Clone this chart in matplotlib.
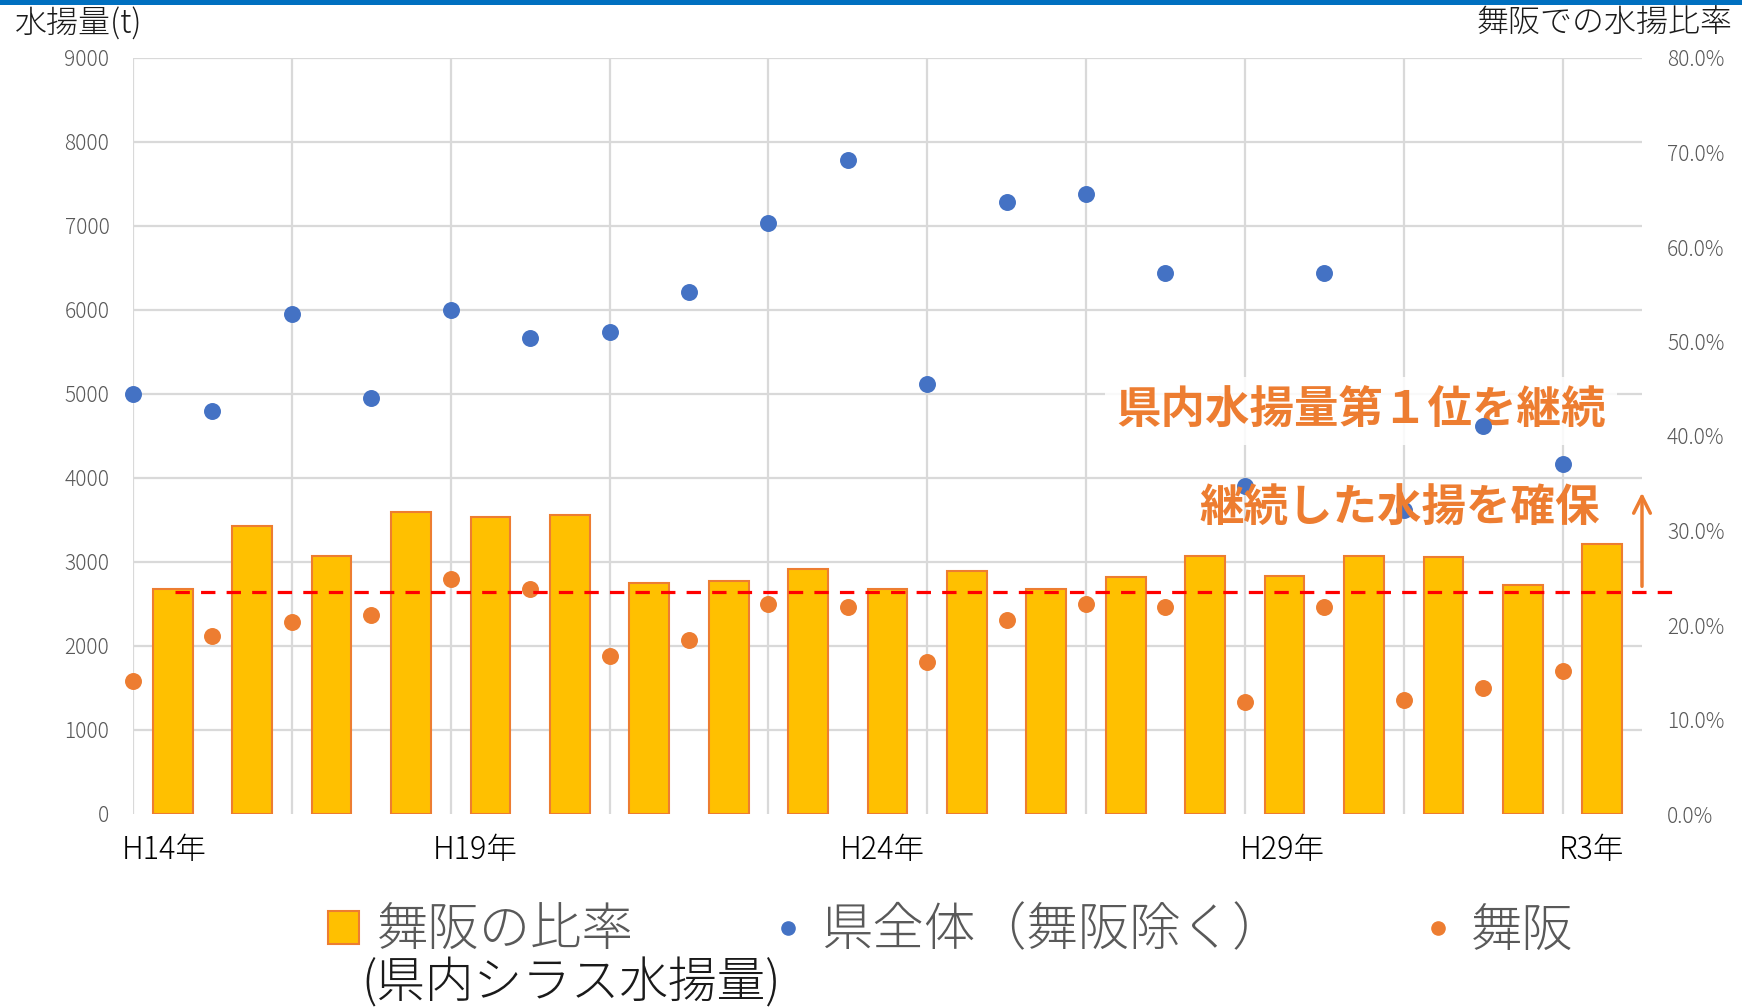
import matplotlib
matplotlib.use('Agg')
import matplotlib.pyplot as plt
from matplotlib.patches import Rectangle, Patch
from matplotlib.lines import Line2D
from matplotlib.ticker import FuncFormatter

plt.rcParams['font.family'] = ['Noto Sans CJK JP', 'DejaVu Sans']

# 年度 H14 .. R2 (19 points)
years = ['H14', 'H15', 'H16', 'H17', 'H18', 'H19', 'H20', 'H21', 'H22', 'H23',
         'H24', 'H25', 'H26', 'H27', 'H28', 'H29', 'H30', 'R1', 'R2']
ken_total = [5000, 4800, 5950, 4950, 6000, 5670, 5740, 6220, 7030, 7780,
             5120, 7280, 7380, 6440, 3900, 6440, 3620, 4620, 4170]
maisaka = [1580, 2120, 2280, 2370, 2800, 2680, 1880, 2070, 2500, 2460,
           1810, 2310, 2500, 2460, 1330, 2460, 1360, 1500, 1700]
ratio = [23.8, 30.5, 27.3, 32.0, 31.4, 31.6, 24.4, 24.7, 25.9, 23.8,
         25.7, 23.8, 25.1, 27.3, 25.2, 27.3, 27.2, 24.2, 28.6]

year_labels = ['H14年', 'H19年', 'H24年', 'H29年', 'R3年']
year_label_x = [0.39, 4.31, 9.43, 14.47, 18.36]

ref_ratio = 23.5          # 赤破線
arrow_from, arrow_to = 23.8, 34.3

BLUE = '#4472C4'
ORANGE = '#ED7D31'
GOLD = '#FFC000'
GRID = '#D9D9D9'
GRAY = '#595959'

fig = plt.figure(figsize=(17.42, 10.08), dpi=100)
ax = fig.add_axes([133 / 1742, 1 - 814 / 1008, 1509 / 1742, 756 / 1008])
ax2 = ax.twinx()

x = list(range(len(years)))
xb = [i + 0.5 for i in x]

# left axis + grid
ax.set_xlim(0, 19)
ax.set_ylim(0, 9000)
ax.set_xticks(range(0, 19, 2))
ax.set_xticklabels([])
ax.set_yticks(range(0, 9001, 1000))
ax.tick_params(axis='x', length=0)
ax.tick_params(axis='y', length=0, pad=17, labelsize=15, labelcolor=GRAY)
ax.grid(True, color=GRID, lw=1.6)
ax.set_axisbelow(True)
for s in ax.spines.values():
    s.set_visible(False)
ax.get_ygridlines()[0].set_visible(False)

# right axis: ratio bars
ax2.set_ylim(0, 80)
ax2.set_yticks(range(0, 81, 10))
ax2.yaxis.set_major_formatter(FuncFormatter(lambda v, p: '{:.1f}%'.format(v)))
ax2.tick_params(axis='y', length=0, pad=18, labelsize=15, labelcolor=GRAY)
for s in ax2.spines.values():
    s.set_visible(False)
for t in ax.get_yticklabels() + ax2.get_yticklabels():
    t.set_fontweight('light')

ax2.bar(xb, ratio, width=0.5, color=GOLD, edgecolor=ORANGE, lw=1.5, zorder=2)

# scatter on left scale, drawn above the bars
ax2.scatter(x, ken_total, s=125, color=BLUE, zorder=4, transform=ax.transData, clip_on=False)
ax2.scatter(x, maisaka, s=125, color=ORANGE, zorder=4, transform=ax.transData, clip_on=False)

# red dashed reference line
ax2.plot([0.53, 19.38], [ref_ratio, ref_ratio], color='red', lw=2.3,
         dashes=(4.5, 3.5), zorder=5, clip_on=False)

# arrow
ax2.annotate('', xy=(19.0, arrow_to), xytext=(19.0, arrow_from),
             arrowprops=dict(arrowstyle='->', color=ORANGE, lw=2.5, mutation_scale=30),
             annotation_clip=False, zorder=5)

# callout texts
ax2.text(15.46, 4797, '県内水揚量第１位を継続', transform=ax.transData,
         ha='center', va='center', fontsize=32, fontweight='bold', color=ORANGE,
         bbox=dict(facecolor='white', edgecolor='none', alpha=0.85, pad=8), zorder=3)
ax2.text(15.95, 3647, '継続した水揚を確保', transform=ax.transData,
         ha='center', va='center', fontsize=32, fontweight='bold', color=ORANGE, zorder=6)

# year labels under the axis
for lab, xp in zip(year_labels, year_label_x):
    ax.text(xp, -0.048, lab, transform=ax.get_xaxis_transform(),
            ha='center', va='center', fontsize=22, color='black', fontweight='light')

# axis titles
fig.text(15 / 1742, 1 - 24 / 1008, '水揚量(t)', ha='left', va='center', fontsize=23,
         color='#1a1a1a', fontweight='light')
fig.text(1733 / 1742, 1 - 24 / 1008, '舞阪での水揚比率', ha='right', va='center', fontsize=23,
         color='#1a1a1a', fontweight='light')

# legend
handles = [Patch(facecolor=GOLD, edgecolor=ORANGE, lw=1.5),
           Line2D([], [], ls='none', marker='o', ms=9.5, color=BLUE),
           Line2D([], [], ls='none', marker='o', ms=9.5, color=ORANGE)]
labels = ['舞阪の比率', '県全体（舞阪除く）', '舞阪']
leg = fig.legend(handles, labels, loc='center left', bbox_to_anchor=(328 / 1742, 1 - 931 / 1008),
                 ncol=3, frameon=False, fontsize=37, handlelength=0.6, handleheight=0.6,
                 handletextpad=0.35, columnspacing=2.7, borderpad=0, borderaxespad=0)
for t in leg.get_texts():
    t.set_color(GRAY)
    t.set_fontweight('light')
fig.text(361 / 1742, 1 - 984 / 1008, '(県内シラス水揚量)', ha='left', va='center', fontsize=35,
         color='#1a1a1a', fontweight='light')

# blue strip at the top
fig.add_artist(Rectangle((0, 1 - 5 / 1008), 1, 5 / 1008, transform=fig.transFigure,
                         color='#0070C0', lw=0))

fig.savefig('out.png', dpi=100)
